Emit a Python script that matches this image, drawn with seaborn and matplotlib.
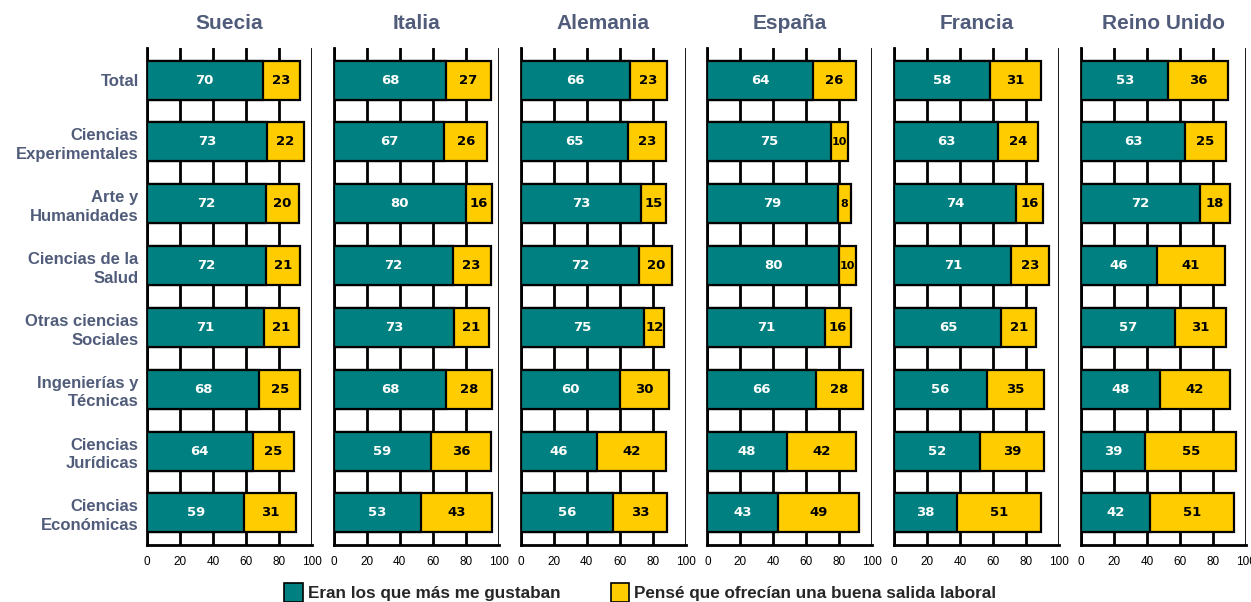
import numpy as np
import pandas as pd
import matplotlib
matplotlib.use("Agg")
import matplotlib.pyplot as plt
import seaborn as sns
from matplotlib.patches import Patch

# Datos
categorias = ["Total", "Ciencias\nExperimentales", "Arte y\nHumanidades",
              "Ciencias de la\nSalud", "Otras ciencias\nSociales",
              "Ingenierías y\nTécnicas", "Ciencias\nJurídicas",
              "Ciencias\nEconómicas"]
paises = ["Suecia", "Italia", "Alemania", "España", "Francia", "Reino Unido"]

gustaban = {
    "Suecia":      [70, 73, 72, 72, 71, 68, 64, 59],
    "Italia":      [68, 67, 80, 72, 73, 68, 59, 53],
    "Alemania":    [66, 65, 73, 72, 75, 60, 46, 56],
    "España":      [64, 75, 79, 80, 71, 66, 48, 43],
    "Francia":     [58, 63, 74, 71, 65, 56, 52, 38],
    "Reino Unido": [53, 63, 72, 46, 57, 48, 39, 42],
}
salida = {
    "Suecia":      [23, 22, 20, 21, 21, 25, 25, 31],
    "Italia":      [27, 26, 16, 23, 21, 28, 36, 43],
    "Alemania":    [23, 23, 15, 20, 12, 30, 42, 33],
    "España":      [26, 10, 8, 10, 16, 28, 42, 49],
    "Francia":     [31, 24, 16, 23, 21, 35, 39, 51],
    "Reino Unido": [36, 25, 18, 41, 31, 42, 55, 51],
}
ticks_x = [0, 20, 40, 60, 80, 100]

TEAL = "#008080"
AMARILLO = "#FFCC00"
GRIS = "#505c7a"

sns.set_style("white")
plt.rcParams["font.family"] = ["Liberation Sans", "DejaVu Sans"]

fig = plt.figure(figsize=(12.51, 6.02), dpi=100)
W, H = 1251, 602
ax_w = 165 / W
bottom = 1 - 545 / H
height = (545 - 48) / H

for i, pais in enumerate(paises):
    left = (147 + i * 186.8) / W
    ax = fig.add_axes([left, bottom, ax_w, height])
    df = pd.DataFrame({"cat": categorias,
                       "a": gustaban[pais],
                       "b": salida[pais]})
    df["total"] = df["a"] + df["b"]

    # barra total en amarillo y encima la parte verde
    sns.barplot(data=df, x="total", y="cat", order=categorias, color=AMARILLO,
                saturation=1, width=0.63, edgecolor="black", linewidth=1.6,
                ax=ax, zorder=3)
    sns.barplot(data=df, x="a", y="cat", order=categorias, color=TEAL,
                saturation=1, width=0.63, edgecolor="black", linewidth=1.6,
                ax=ax, zorder=4)

    for j, row in df.iterrows():
        ax.text(row["a"] / 2, j, f"{row['a']}", ha="center", va="center",
                color="white", fontsize=9.5, fontweight="bold",
                family="DejaVu Sans", zorder=5)
        fs = 9.5 if row["b"] > 10 else 8
        ax.text(row["a"] + row["b"] / 2, j, f"{row['b']}", ha="center",
                va="center", color="black", fontsize=fs, fontweight="bold",
                family="DejaVu Sans", zorder=5)

    ax.set_xlim(0, 100)
    ax.set_ylim(7.52, -0.52)
    ax.set_xticks(ticks_x)
    ax.set_xticklabels([str(t) for t in ticks_x], fontsize=8.5)
    ax.grid(axis="x", color="black", linewidth=2, zorder=0)
    ax.grid(axis="y", visible=False)
    ax.set_axisbelow(True)
    ax.set_xlabel("")
    ax.set_ylabel("")
    for s in ["top", "right"]:
        ax.spines[s].set_visible(False)
    for s in ["left", "bottom"]:
        ax.spines[s].set_color("black")
        ax.spines[s].set_linewidth(2)
    ax.tick_params(axis="x", direction="out", length=4, width=2,
                   color="black", pad=4, labelcolor="black")
    ax.tick_params(axis="y", length=0, pad=6)
    if i == 0:
        ax.set_yticks(range(len(categorias)))
        ax.set_yticklabels(categorias, fontsize=12, fontweight="bold",
                           color=GRIS, linespacing=1.3)
    else:
        ax.set_yticklabels([])
    ax.set_title(pais, fontsize=15, fontweight="bold", color=GRIS, pad=14)

handles = [Patch(facecolor=TEAL, edgecolor="black", linewidth=1.2,
                 label="Eran los que más me gustaban"),
           Patch(facecolor=AMARILLO, edgecolor="black", linewidth=1.2,
                 label="Pensé que ofrecían una buena salida laboral")]
fig.legend(handles=handles, loc="center", bbox_to_anchor=(0.512, 0.016),
           ncol=2, frameon=False, handlelength=1.1, handleheight=1.3,
           handletextpad=0.3, columnspacing=2.9,
           prop={"weight": "bold", "size": 12.3})

fig.savefig("out.png", dpi=100)
